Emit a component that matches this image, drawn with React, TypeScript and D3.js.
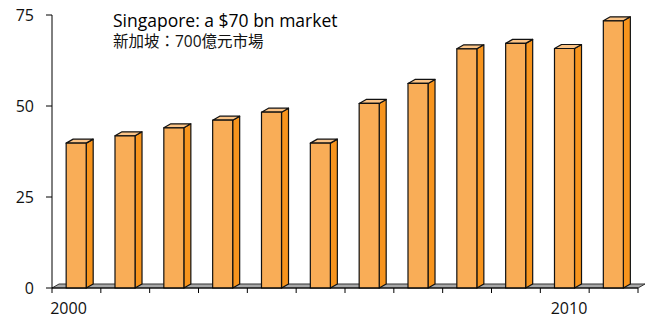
import React from "react";
import * as d3 from "d3";

const years = [2000, 2001, 2002, 2003, 2004, 2005, 2006, 2007, 2008, 2009, 2010, 2011];
const values = [39.8, 41.8, 44.0, 46.1, 48.3, 39.8, 50.7, 56.2, 65.7, 67.2, 65.8, 73.4];
const yTicks = [0, 25, 50, 75];
const xLabels = [2000, 2010];
const title = "Singapore: a $70 bn market";
const subtitle = "新加坡：700億元市場";

const W = 646, H = 318;
const DX = 7, DY = 4;
const FONT = "'Open Sans', 'Noto Sans CJK TC', sans-serif";

export default function App() {
  const x = d3.scaleBand<number>().domain(years).range([52, 638]).padding(0);
  const y = d3.scaleLinear().domain([0, 75]).range([288, 15]);
  const bw = x.bandwidth();
  const barOff = bw * 0.29;
  const barW = bw * 0.41;
  const labelX = d3.scaleLinear().domain([2000, 2010]).range([68.5, 569]);
  const x0 = x.range()[0];
  const x1 = x.range()[1];
  const y0 = y(0);
  const boundaries = d3.range(years.length + 1).map((i) => x0 + i * bw);

  return (
    <svg width={W} height={H} style={{ position: "absolute", left: 0, top: 0, background: "#fff" }}>
      {/* floor */}
      <path
        d={`M${x0},${y0} L${x0 + DX},${y0 - DY} L${x1 + DX},${y0 - DY} L${x1},${y0} Z`}
        fill="#a8a8a8"
        stroke="#333"
        strokeWidth={1}
      />
      {/* bars */}
      {years.map((yr, i) => {
        const bx = (x(yr) as number) + barOff;
        const top = y(values[i]);
        return (
          <g key={yr} stroke="#111" strokeWidth={1.2} strokeLinejoin="round">
            <path
              d={`M${bx + barW},${y0} L${bx + barW + DX},${y0 - DY} L${bx + barW + DX},${top - DY} L${bx + barW},${top} Z`}
              fill="#f7941d"
            />
            <path
              d={`M${bx},${top} L${bx + DX},${top - DY} L${bx + barW + DX},${top - DY} L${bx + barW},${top} Z`}
              fill="#fbc487"
            />
            <rect x={bx} y={top} width={barW} height={y0 - top} fill="#f9ad57" />
          </g>
        );
      })}
      {/* axes */}
      <line x1={x0} y1={y(75)} x2={x0} y2={y0} stroke="#000" strokeWidth={1} />
      <line x1={x0} y1={y0} x2={x1} y2={y0} stroke="#000" strokeWidth={1} />
      {yTicks.map((t) => (
        <g key={t}>
          <line x1={x0 - 6} x2={x0} y1={y(t)} y2={y(t)} stroke="#000" strokeWidth={1} />
          <text x={34} y={y(t)} dy="0.35em" textAnchor="end" fontFamily={FONT} fontSize={16} fill="#111">
            {t}
          </text>
        </g>
      ))}
      {boundaries.map((b, i) => (
        <line key={i} x1={b} x2={b} y1={y0} y2={y0 + 5} stroke="#000" strokeWidth={1} />
      ))}
      {xLabels.map((l) => (
        <text key={l} x={labelX(l)} y={314} textAnchor="middle" fontFamily={FONT} fontSize={16} fill="#111">
          {l}
        </text>
      ))}
      <text x={113} y={27} fontFamily={FONT} fontSize={17.5} fontWeight={500} fill="#000">
        {title}
      </text>
      <text x={113} y={47} fontFamily={FONT} fontSize={15.5} fill="#111">
        {subtitle}
      </text>
    </svg>
  );
}
